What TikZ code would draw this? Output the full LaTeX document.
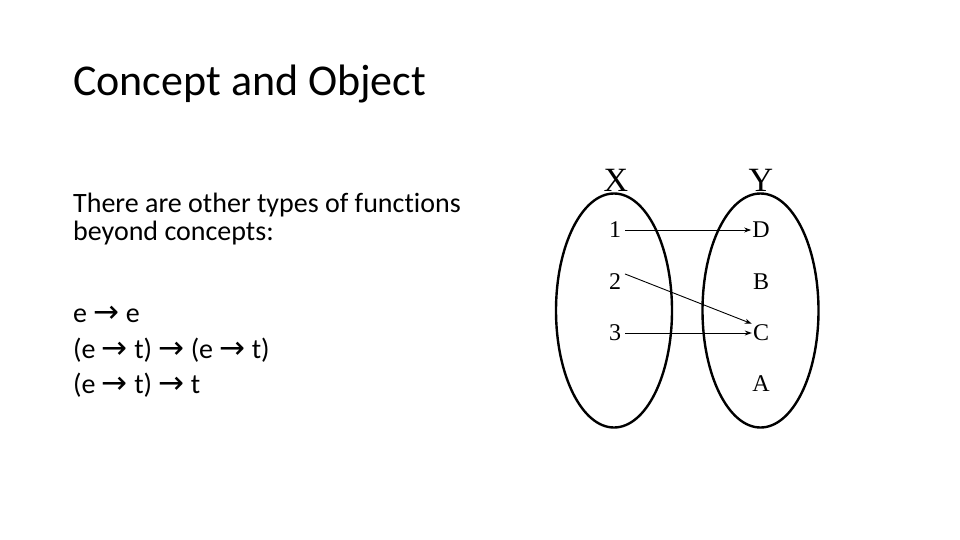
\documentclass[tikz,border=0pt]{standalone}
\usepackage{fontspec}
\setmainfont[Ligatures=NoCommon]{Carlito}
\newfontfamily\arrowfont{DejaVu Sans}
\newfontfamily\setfont{Liberation Serif}
\usetikzlibrary{arrows.meta, positioning}

\newcommand{\ra}{{\arrowfont\fontsize{31}{28}\selectfont\symbol{"2192}}}

\begin{document}
\begin{tikzpicture}[x=1pt, y=-1pt,
  slidetext/.style={anchor=base west, inner sep=0pt, font=\fontsize{28}{28}\selectfont},
  setlabel/.style={inner sep=1pt, font=\setfont\fontsize{24}{24}\selectfont},
  setname/.style={inner sep=0pt, font=\setfont\fontsize{34}{34}\selectfont},
  maps/.style={line width=0.9pt, shorten <=3pt, -{Stealth[length=7pt, width=5pt]}}]
  \useasboundingbox (0,0) rectangle (960,540);

  % Title
  \node[anchor=base west, inner sep=0pt, font=\fontsize{44}{44}\selectfont] (title) at (73,96) {Concept and Object};

  % Body text
  \node[slidetext] (line1) at (73,212) {There are other types of functions};
  \node[slidetext] (line2) at (73,240) {beyond concepts:};
  \node[slidetext] (type1) at (73,322) {e \ra\ e};
  \node[slidetext] (type2) at (73,358) {(e \ra\ t) \ra\ (e \ra\ t)};
  \node[slidetext] (type3) at (73,393) {(e \ra\ t) \ra\ t};

  % Sets X and Y
  \draw[line width=2.4pt] (614,310.5) ellipse [x radius=58, y radius=117];
  \draw[line width=2.4pt] (760.5,310.5) ellipse [x radius=58, y radius=117];
  \node[setname] (X) at (616,180) {X};
  \node[setname] (Y) at (761,180) {Y};

  % Elements
  \node[setlabel] (x1) at (615,230) {1};
  \node[setlabel] (x2) at (615,282) {2};
  \node[setlabel] (x3) at (615,333) {3};
  \node[setlabel] (yD) at (761,230) {D};
  \node[setlabel] (yB) at (761,282) {B};
  \node[setlabel] (yC) at (761,333) {C};
  \node[setlabel] (yA) at (761,384) {A};

  % Mapping
  \draw[maps] (x1.east) -- (yD.west);
  \draw[maps] (x2.north east) -- (yC.north west);
  \draw[maps] (x3.east) -- (yC.west);
\end{tikzpicture}
\end{document}
